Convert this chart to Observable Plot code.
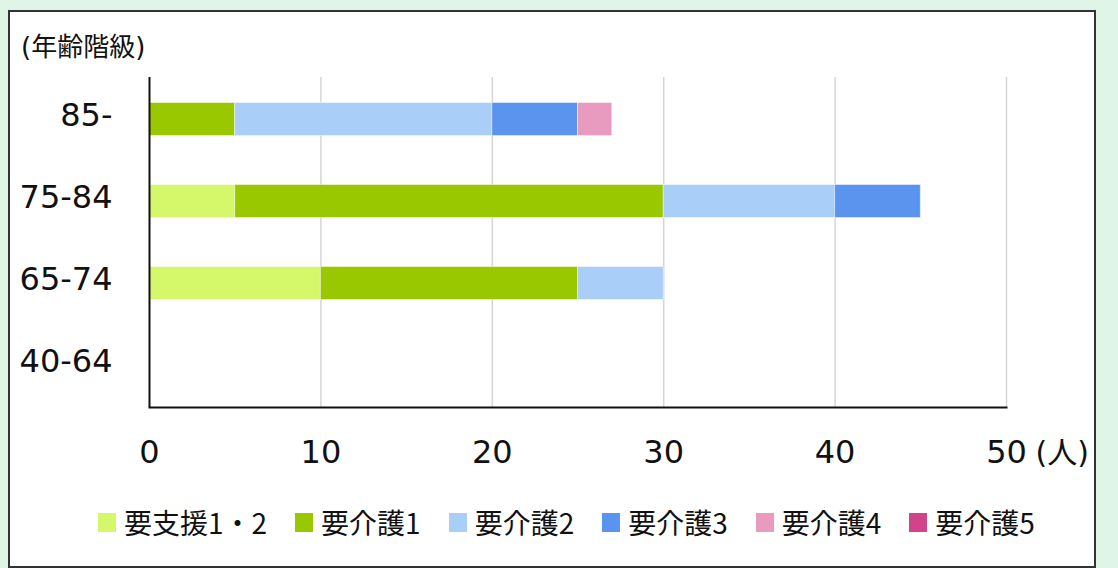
<!DOCTYPE html>
<html><head><meta charset="utf-8">
<script src="https://cdn.jsdelivr.net/npm/d3@7"></script>
<script src="https://cdn.jsdelivr.net/npm/@observablehq/plot@0.6"></script>
<style>
html,body{margin:0;padding:0;background:#def5e8;}
#page{position:relative;width:1118px;height:568px;overflow:hidden;font-family:"DejaVu Sans","Noto Sans CJK JP",sans-serif;color:#111;}
#box{position:absolute;left:8px;top:10px;width:1088px;height:558px;box-sizing:border-box;border:2px solid #333;background:#fff;}
#chart{position:absolute;left:0;top:0;}
#title{position:absolute;left:21px;top:31px;font-size:26px;line-height:32px;font-family:"DejaVu Sans","Noto Sans CJK JP",sans-serif;}
#legend{position:absolute;left:98px;top:505px;display:flex;align-items:center;font-family:"Noto Sans CJK JP",sans-serif;font-size:28px;line-height:34px;}
.item{display:flex;align-items:center;margin-right:28px;}
.sw{width:18px;height:19px;margin-right:8px;}
</style></head>
<body><div id="page"><div id="box"></div><div id="chart"></div><div id="title"></div><div id="legend"></div></div>
<script>
const ages = ["85-", "75-84", "65-74", "40-64"];
const categories = ["要支援1・2", "要介護1", "要介護2", "要介護3", "要介護4", "要介護5"];
const colors = ["#d5f86a", "#99c700", "#a9cff8", "#5b94ee", "#e89abf", "#d24489"];
// values per category, in the order of ages
const support12 = [0, 5, 10, 0];
const care1 = [5, 25, 15, 0];
const care2 = [15, 10, 5, 0];
const care3 = [5, 5, 0, 0];
const care4 = [2, 0, 0, 0];
const care5 = [0, 0, 0, 0];
const xTicks = [0, 10, 20, 30, 40, 50];
const yTitle = "(年齢階級)";
const xUnit = "(人)";

const series = [support12, care1, care2, care3, care4, care5];
const table = [];
categories.forEach((c, i) => ages.forEach((a, j) => {
  if (series[i][j] > 0) table.push({cat: c, age: a, value: series[i][j]});
}));

const chart = Plot.plot({
  width: 1118, height: 480,
  marginLeft: 149, marginRight: 112, marginTop: 77, marginBottom: 73,
  style: {fontFamily: '"DejaVu Sans","Noto Sans CJK JP",sans-serif', fontSize: "32px", color: "#111", background: "transparent", overflow: "visible"},
  x: {domain: [0, 50]},
  y: {domain: ages, padding: 0},
  color: {domain: categories, range: colors},
  marks: [
    Plot.gridX(xTicks.slice(1), {stroke: "#d6d6d6", strokeOpacity: 1, strokeWidth: 1.5}),
    Plot.barX(table, Plot.stackX({x: "value", y: "age", fill: "cat", insetTop: 24.5, insetBottom: 24.5, stroke: "#fff", strokeOpacity: 0.45, strokeWidth: 1})),
    Plot.ruleX([0], {stroke: "#111", strokeWidth: 2}),
    Plot.frame({anchor: "bottom", stroke: "#111", strokeWidth: 2}),
    Plot.axisX({ticks: xTicks, tickSize: 0, tickPadding: 33, fontSize: 32, label: null, tickFormat: d => String(d)}),
    Plot.axisY({tickSize: 0, tickPadding: 37, fontSize: 32, label: null, dy: -4}),
    Plot.text([xUnit], {x: () => 50, frameAnchor: "bottom", text: d => d, dx: 29, dy: 46, textAnchor: "start", lineAnchor: "middle", fontSize: 30, fill: "#111"})
  ]
});
document.getElementById("chart").appendChild(chart);
document.getElementById("title").textContent = yTitle;
const lg = document.getElementById("legend");
categories.forEach((c, i) => {
  const it = document.createElement("div"); it.className = "item";
  const sw = document.createElement("div"); sw.className = "sw"; sw.style.background = colors[i];
  const t = document.createElement("span"); t.textContent = c;
  it.appendChild(sw); it.appendChild(t); lg.appendChild(it);
});
</script></body></html>
